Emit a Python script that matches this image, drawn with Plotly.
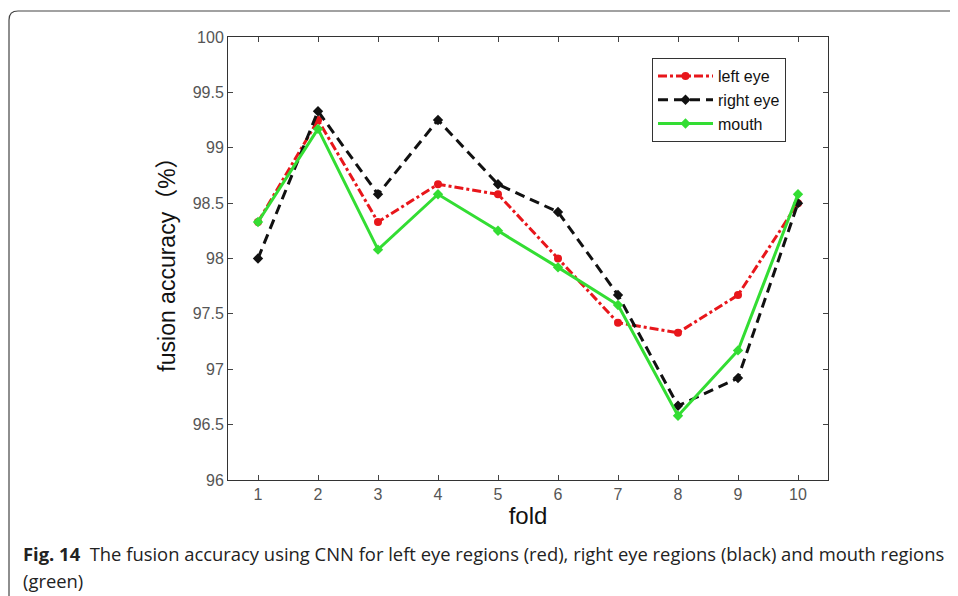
import plotly.graph_objects as go

folds = [1, 2, 3, 4, 5, 6, 7, 8, 9, 10]
left_eye = [98.33, 99.25, 98.33, 98.67, 98.58, 98.0, 97.42, 97.33, 97.67, 98.5]
right_eye = [98.0, 99.33, 98.58, 99.25, 98.67, 98.42, 97.67, 96.67, 96.92, 98.5]
mouth = [98.33, 99.17, 98.08, 98.58, 98.25, 97.92, 97.58, 96.58, 97.17, 98.58]
y_ticks = [96, 96.5, 97, 97.5, 98, 98.5, 99, 99.5, 100]
y_tick_text = ["96", "96.5", "97", "97.5", "98", "98.5", "99", "99.5", "100"]

OFF = 8  # page body margin
W, H = 958 - OFF, 596 - OFF
L, T = 228 - OFF, 37 - OFF
pw, ph = 600, 443
R, B = W - L - pw, H - T - ph

def px(x):
    return (x - OFF - L) / pw

def py(y):
    return (T + ph - (y - OFF)) / ph

fig = go.Figure()
fig.add_trace(go.Scatter(x=folds, y=left_eye, name="left eye", mode="lines+markers",
                         line=dict(color="#e8161b", width=3, dash="dashdot"),
                         marker=dict(symbol="circle", size=8, color="#e8161b")))
fig.add_trace(go.Scatter(x=folds, y=right_eye, name="right eye", mode="lines+markers",
                         line=dict(color="#111111", width=3, dash="10px,6px"),
                         marker=dict(symbol="diamond", size=8, color="#111111")))
fig.add_trace(go.Scatter(x=folds, y=mouth, name="mouth", mode="lines+markers",
                         line=dict(color="#33dd33", width=3),
                         marker=dict(symbol="diamond", size=8, color="#33dd33")))

axis_font = dict(family="Arial, Liberation Sans, sans-serif", size=16, color="#555555")
fig.update_xaxes(range=[0.5, 10.5], tickvals=folds, ticks="inside", ticklen=5,
                 mirror="ticks", showline=True, linecolor="#333333", linewidth=1,
                 showgrid=False, zeroline=False, tickfont=axis_font,
                 title=dict(text="fold", font=dict(family="Arial, Liberation Sans, sans-serif", size=24, color="#111111"), standoff=4))
fig.update_yaxes(range=[96, 100], tickvals=y_ticks, ticktext=y_tick_text, ticks="inside", ticklen=5,
                 mirror="ticks", showline=True, linecolor="#333333", linewidth=1,
                 showgrid=False, zeroline=False, tickfont=axis_font,
                 title=dict(text="fusion accuracy（%）", font=dict(family="Arial, Liberation Sans, Noto Sans CJK SC, sans-serif", size=23, color="#111111"), standoff=10))

# rounded border around the figure
x0, yt, r = 9, 11, 9
path = (f"M {px(x0)},{py(H + 40)} L {px(x0)},{py(yt + r)} "
        f"Q {px(x0)},{py(yt)} {px(x0 + r)},{py(yt)} L {px(W + 40)},{py(yt)}")
fig.add_shape(type="path", path=path, xref="paper", yref="paper",
              line=dict(color="#444444", width=1.2))

cap_font = dict(family="Open Sans, Noto Sans, sans-serif", size=18.4, color="#222222")
fig.add_annotation(text="<b>Fig. 14</b>  The fusion accuracy using CNN for left eye regions (red), right eye regions (black) and mouth regions",
                   xref="paper", yref="paper", x=px(21), y=py(553), xanchor="left", yanchor="middle",
                   showarrow=False, font=cap_font)
fig.add_annotation(text="(green)", xref="paper", yref="paper", x=px(21), y=py(580),
                   xanchor="left", yanchor="middle", showarrow=False, font=cap_font)

fig.update_layout(width=W, height=H, margin=dict(l=L, r=R, t=T, b=B),
                  paper_bgcolor="white", plot_bgcolor="white", showlegend=True,
                  legend=dict(x=px(652), y=py(58), xanchor="left", yanchor="top",
                              bordercolor="#333333", borderwidth=1, bgcolor="white",
                              font=dict(family="Arial, Liberation Sans, sans-serif", size=16, color="#111111"),
                              tracegroupgap=0, itemwidth=55))

fig.write_html("out.html")
